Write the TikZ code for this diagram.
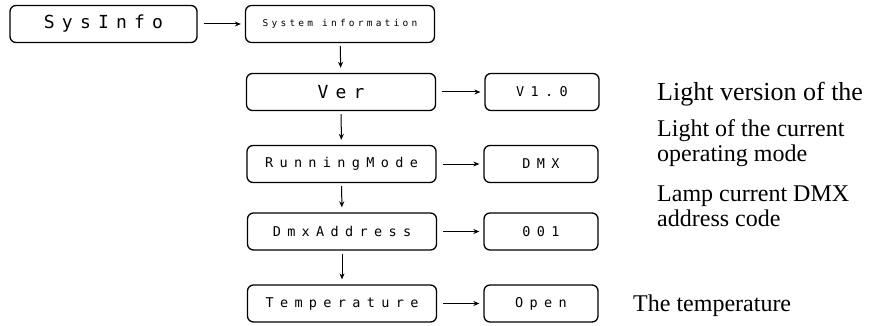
\documentclass[tikz,border=0pt]{standalone}
\usepackage{fontspec}
\setmainfont{Liberation Serif}
\newfontfamily\lcdbig[LetterSpace=40]{DejaVu Sans Mono}
\newfontfamily\lcdmid[LetterSpace=47]{DejaVu Sans Mono}
\newfontfamily\lcdsmall[LetterSpace=34]{DejaVu Sans Mono}
\usetikzlibrary{arrows.meta}
\begin{document}
\begin{tikzpicture}[x=1pt,y=-1pt,
  box/.style={draw,line width=1.3pt,rounded corners=6pt,minimum height=37pt,inner sep=0pt},
  lbox/.style={box,minimum width=189pt},
  rbox/.style={box,minimum width=114pt},
  big/.style={font=\fontsize{18}{20}\lcdbig},
  mid/.style={font=\fontsize{13.5}{15}\lcdmid},
  small/.style={font=\fontsize{9.5}{11}\lcdsmall},
  desc/.style={font=\fontsize{24}{25}\selectfont,align=left,anchor=base west,inner sep=0pt},
  arr/.style={-{Stealth[length=6pt,width=5pt]},line width=1pt},
  harr/.style={arr,shorten <=6pt,shorten >=4pt},
  varr/.style={arr,shorten <=3pt,shorten >=5pt}]
\useasboundingbox (0,0) rectangle (874,326);
\node[lbox,big,minimum width=187pt] (sys) at (103.5,24) {SysInfo};
\node[lbox,small] (sysd) at (340,24) {System information};
\node[lbox,big] (ver) at (341,92) {Ver};
\node[rbox,mid] (verv) at (542,92) {V1.0};
\node[lbox,mid] (run) at (341.5,164) {RunningMode};
\node[rbox,mid] (runv) at (541,164) {DMX};
\node[lbox,mid] (dmx) at (342,231.5) {DmxAddress};
\node[rbox,mid] (dmxv) at (541,231.5) {001};
\node[lbox,mid] (tmp) at (342,303.5) {Temperature};
\node[rbox,mid] (tmpv) at (541,303.5) {Open};
\draw[harr] (sys) -- (sysd);
\draw[harr] (ver) -- (verv);
\draw[harr] (run) -- (runv);
\draw[harr] (dmx) -- (dmxv);
\draw[harr] (tmp) -- (tmpv);
\draw[varr] (sysd) -- (ver);
\draw[varr] (ver) -- (run);
\draw[varr] (run) -- (dmx);
\draw[varr] (dmx) -- (tmp);
\node[desc,font=\fontsize{26}{27}\selectfont] (d1) at (657,101) {Light version of the};
\node[desc] (d2) at (657,161) {Light of the current\\operating mode};
\node[desc] (d3) at (657,226) {Lamp current DMX\\address code};
\node[desc] (d4) at (633,311) {The temperature};
\end{tikzpicture}
\end{document}
